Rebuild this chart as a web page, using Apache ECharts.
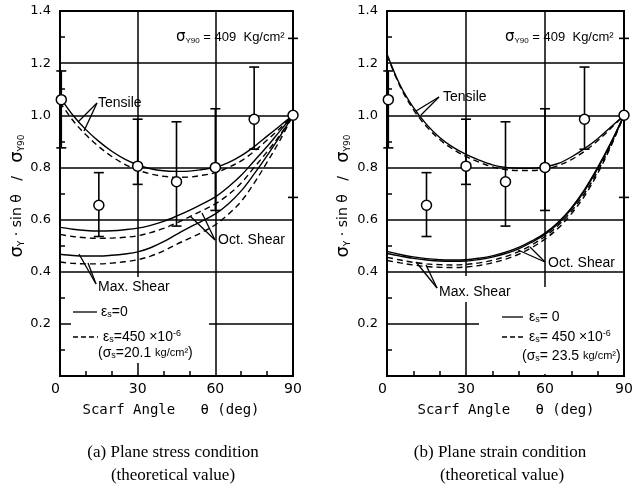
<!DOCTYPE html>
<html>
<head>
<meta charset="utf-8">
<script src="https://cdn.jsdelivr.net/npm/echarts@6/dist/echarts.min.js"></script>
<style>
html,body{margin:0;padding:0;background:#fff;}
#chart{width:639px;height:486px;}
</style>
</head>
<body>
<div id="chart"></div>
<script>
// scarf angle (deg) for the theoretical curves
const theta = [0,5,10,15,20,25,30,35,40,45,50,55,60,65,70,75,80,85,90];

// (a) plane stress
const stressTensileSolid  = [1.07,1.0,0.945,0.90,0.862,0.832,0.81,0.795,0.787,0.785,0.786,0.792,0.80,0.818,0.845,0.88,0.92,0.96,1.0];
const stressTensileDashed = [1.05,0.98,0.925,0.88,0.842,0.812,0.79,0.775,0.766,0.762,0.763,0.77,0.78,0.80,0.825,0.862,0.905,0.95,1.0];
const stressOctSolid  = [0.57,0.563,0.558,0.556,0.557,0.561,0.567,0.578,0.593,0.613,0.635,0.66,0.687,0.725,0.77,0.825,0.88,0.94,1.0];
const stressOctDashed = [0.543,0.535,0.53,0.528,0.529,0.532,0.538,0.55,0.566,0.587,0.61,0.635,0.66,0.695,0.74,0.80,0.86,0.925,1.0];
const stressMaxSolid  = [0.467,0.462,0.46,0.46,0.463,0.468,0.476,0.492,0.515,0.543,0.57,0.595,0.622,0.66,0.71,0.775,0.845,0.92,1.0];
const stressMaxDashed = [0.437,0.432,0.43,0.43,0.433,0.438,0.446,0.46,0.48,0.505,0.528,0.552,0.58,0.62,0.67,0.74,0.82,0.905,1.0];

// (b) plane strain
const strainTensileSolid  = [1.235,1.115,1.03,0.965,0.915,0.878,0.85,0.828,0.81,0.80,0.797,0.797,0.802,0.815,0.84,0.872,0.91,0.955,1.0];
const strainTensileDashed = [1.23,1.11,1.022,0.957,0.907,0.87,0.842,0.82,0.802,0.792,0.788,0.788,0.793,0.807,0.83,0.862,0.902,0.95,1.0];
const strainOctSolid  = [0.478,0.466,0.457,0.45,0.446,0.445,0.446,0.452,0.461,0.475,0.493,0.518,0.548,0.59,0.645,0.715,0.80,0.895,1.0];
const strainMaxSolid  = [0.47,0.46,0.451,0.445,0.441,0.44,0.441,0.447,0.456,0.47,0.488,0.513,0.543,0.585,0.64,0.71,0.795,0.892,1.0];
const strainOctDashed = [0.455,0.445,0.436,0.43,0.427,0.426,0.428,0.434,0.444,0.458,0.477,0.503,0.535,0.577,0.632,0.70,0.785,0.885,1.0];
const strainMaxDashed = [0.443,0.434,0.426,0.42,0.417,0.416,0.418,0.424,0.434,0.448,0.467,0.493,0.525,0.567,0.622,0.69,0.777,0.88,1.0];

// experimental points (same in both panels)
const expAngle = [0.5,15,30,45,60,75,90];
const expMean  = [1.06,0.655,0.805,0.745,0.80,0.985,1.0];
const expHigh  = [1.17,0.78,0.985,0.975,1.025,1.185,1.295];
const expLow   = [0.875,0.535,0.735,0.575,0.635,0.87,0.685];

const chart = echarts.init(document.getElementById('chart'));
const BLK = '#000';
const sans = '"DejaVu Sans", sans-serif';
const lib = '"Liberation Sans", sans-serif';

function curve(idx, vals, dashed) {
  return {
    type: 'line', xAxisIndex: idx, yAxisIndex: idx,
    data: theta.map((t, i) => [t, vals[i]]),
    smooth: 0.35, symbol: 'none', silent: true, z: 3,
    lineStyle: { color: BLK, width: 1.4, type: dashed ? [6, 4] : 'solid' }
  };
}

function errorBars(idx) {
  return {
    type: 'custom', xAxisIndex: idx, yAxisIndex: idx, z: 4, silent: true,
    data: expAngle.map((a, i) => [a, expLow[i], expHigh[i]]),
    encode: { x: 0, y: [1, 2] },
    renderItem: function (params, api) {
      const top = api.coord([api.value(0), api.value(2)]);
      const bot = api.coord([api.value(0), api.value(1)]);
      const w = 5;
      const st = { stroke: BLK, lineWidth: 1.6 };
      return {
        type: 'group',
        children: [
          { type: 'line', shape: { x1: top[0], y1: top[1], x2: bot[0], y2: bot[1] }, style: st },
          { type: 'line', shape: { x1: top[0] - w, y1: top[1], x2: top[0] + w, y2: top[1] }, style: st },
          { type: 'line', shape: { x1: bot[0] - w, y1: bot[1], x2: bot[0] + w, y2: bot[1] }, style: st }
        ]
      };
    }
  };
}

function points(idx) {
  return {
    type: 'scatter', xAxisIndex: idx, yAxisIndex: idx, z: 5, silent: true,
    data: expAngle.map((a, i) => [a, expMean[i]]),
    symbol: 'circle', symbolSize: 10,
    itemStyle: { color: '#fff', borderColor: BLK, borderWidth: 1.5, opacity: 1 }
  };
}

function xAxis(idx) {
  return {
    type: 'value', gridIndex: idx, min: 0, max: 90, interval: 30,
    axisLine: { lineStyle: { color: BLK, width: 2 } },
    axisTick: { show: false, inside: true, length: 5 },
    minorTick: { show: true, splitNumber: 3, length: 5, lineStyle: { color: BLK, width: 1.5 } },
    splitLine: { show: true, lineStyle: { color: BLK, width: 1.5 } },
    axisLabel: { color: BLK, fontSize: 14, fontFamily: sans, margin: 6, alignMinLabel: 'right' }
  };
}

function yAxis(idx) {
  return {
    type: 'value', gridIndex: idx, min: 0, max: 1.4, interval: 0.2,
    axisLine: { show: true, lineStyle: { color: BLK, width: 2 } },
    axisTick: { show: false, inside: true, length: 5 },
    minorTick: { show: true, splitNumber: 2, length: 5, lineStyle: { color: BLK, width: 1.5 } },
    splitLine: { show: true, lineStyle: { color: BLK, width: 1.5 } },
    axisLabel: {
      color: BLK, fontSize: 13, fontFamily: sans, margin: 9,
      formatter: v => (v === 0 ? '' : v.toFixed(1))
    }
  };
}

const rich = {
  g: { fontSize: 18, fontFamily: sans, color: BLK },
  a: { fontSize: 15, fontFamily: sans, color: BLK },
  n: { fontSize: 14, fontFamily: sans, color: BLK },
  s: { fontSize: 9, fontFamily: sans, color: BLK, verticalAlign: 'bottom', padding: [6, 0, 0, 0] },
  as: { fontSize: 8, fontFamily: lib, color: BLK, verticalAlign: 'bottom', padding: [5, 0, 0, 0] },
  t: { fontSize: 13, fontFamily: lib, color: BLK },
  L: { fontSize: 14, fontFamily: lib, color: BLK },
  ls: { fontSize: 9, fontFamily: lib, color: BLK, verticalAlign: 'bottom', padding: [5, 0, 0, 0] },
  lp: { fontSize: 9, fontFamily: lib, color: BLK, verticalAlign: 'top', padding: [0, 0, 6, 0] },
  lk: { fontSize: 11, fontFamily: lib, color: BLK }
};

function txt(x, y, text, opts) {
  return Object.assign({
    type: 'text', x: x, y: y, z: 10, silent: true,
    style: Object.assign({ text: text, fill: BLK, font: '13px ' + lib, align: 'left', verticalAlign: 'middle', rich: rich }, (opts && opts.style) || {})
  }, (opts && opts.el) || {});
}
function seg(x1, y1, x2, y2, dashed) {
  return { type: 'line', z: 10, silent: true, shape: { x1, y1, x2, y2 },
    style: { stroke: BLK, lineWidth: 1.3, lineDash: dashed ? [5, 3] : null } };
}
function mask(x, y, w, h) {
  return { type: 'rect', z: 1, silent: true, shape: { x, y, width: w, height: h }, style: { fill: '#fff' } };
}

const yName = '{g|σ}{s|Y}{n| · sin θ   /   }{g|σ}{s|Y90}';
const annot = '{a|σ}{as|Y90}{t| = 409  Kg/cm²}';
const xName = 'Scarf Angle   θ (deg)';

const graphics = [
  // gaps in the grid behind the legends and labels
  mask(71, 277, 138, 86),
  mask(479, 318, 144, 10),
  mask(461, 276, 10, 26),
  mask(541, 287, 10, 87),

  // axis names
  txt(17, 196, yName, { style: { align: 'center' }, el: { rotation: Math.PI / 2 } }),
  txt(343, 196, yName, { style: { align: 'center' }, el: { rotation: Math.PI / 2 } }),
  txt(171, 410, xName, { style: { align: 'center', font: '14px "DejaVu Sans Mono", monospace' } }),
  txt(506, 410, xName, { style: { align: 'center', font: '14px "DejaVu Sans Mono", monospace' } }),

  // captions
  txt(173, 453, '(a) Plane stress condition', { style: { align: 'center', font: '17px "Liberation Serif", serif' } }),
  txt(173, 476, '(theoretical value)', { style: { align: 'center', font: '17px "Liberation Serif", serif' } }),
  txt(500, 453, '(b) Plane strain condition', { style: { align: 'center', font: '17px "Liberation Serif", serif' } }),
  txt(502, 476, '(theoretical value)', { style: { align: 'center', font: '17px "Liberation Serif", serif' } }),

  // reference strength
  txt(176, 37, annot),
  txt(505, 37, annot),

  // curve labels, panel (a)
  txt(98, 103, 'Tensile', { style: { font: '14px ' + lib } }),
  seg(97, 103, 78, 122), seg(97, 103, 84, 131),
  txt(218, 240, 'Oct. Shear', { style: { font: '14px ' + lib } }),
  seg(215, 240, 190, 216), seg(215, 240, 202, 213),
  txt(98, 287, 'Max. Shear', { style: { font: '14px ' + lib } }),
  seg(96, 284, 79, 254), seg(96, 284, 88, 263),

  // curve labels, panel (b)
  txt(443, 97, 'Tensile', { style: { font: '14px ' + lib } }),
  seg(439, 97, 416, 111), seg(439, 97, 421, 115),
  txt(548, 263, 'Oct. Shear', { style: { font: '14px ' + lib } }),
  seg(545, 262, 518, 250), seg(545, 262, 530, 247),
  txt(439, 292, 'Max. Shear', { style: { font: '14px ' + lib } }),
  seg(437, 288, 416, 262), seg(437, 288, 426, 265),

  // legend, panel (a)
  seg(73, 312, 97, 312, false),
  txt(101, 312, '{L|ε}{ls|s}{L|=0}'),
  seg(73, 337, 98, 337, true),
  txt(103, 337, '{L|ε}{ls|s}{L|=450 ×10}{lp|-6}'),
  txt(98, 353, '{L|(σ}{ls|s}{L|=20.1 }{lk|kg/cm²}{L|)}'),

  // legend, panel (b)
  seg(502, 317, 523, 317, false),
  txt(529, 317, '{L|ε}{ls|s}{L|= 0}'),
  seg(502, 337, 524, 337, true),
  txt(529, 337, '{L|ε}{ls|s}{L|= 450 ×10}{lp|-6}'),
  txt(522, 356, '{L|(σ}{ls|s}{L|= 23.5 }{lk|kg/cm²}{L|)}')
];

const option = {
  animation: false,
  backgroundColor: '#fff',
  grid: [
    { left: 60, top: 11, width: 233, height: 365, show: true, borderColor: BLK, borderWidth: 2, backgroundColor: 'transparent' },
    { left: 387, top: 11, width: 237, height: 365, show: true, borderColor: BLK, borderWidth: 2, backgroundColor: 'transparent' }
  ],
  xAxis: [xAxis(0), xAxis(1)],
  yAxis: [yAxis(0), yAxis(1)],
  graphic: { elements: graphics },
  series: [
    curve(0, stressTensileSolid, false),
    curve(0, stressTensileDashed, true),
    curve(0, stressOctSolid, false),
    curve(0, stressOctDashed, true),
    curve(0, stressMaxSolid, false),
    curve(0, stressMaxDashed, true),
    errorBars(0),
    points(0),
    curve(1, strainTensileSolid, false),
    curve(1, strainTensileDashed, true),
    curve(1, strainOctSolid, false),
    curve(1, strainMaxSolid, false),
    curve(1, strainOctDashed, true),
    curve(1, strainMaxDashed, true),
    errorBars(1),
    points(1)
  ]
};
chart.setOption(option);
</script>
</body>
</html>
